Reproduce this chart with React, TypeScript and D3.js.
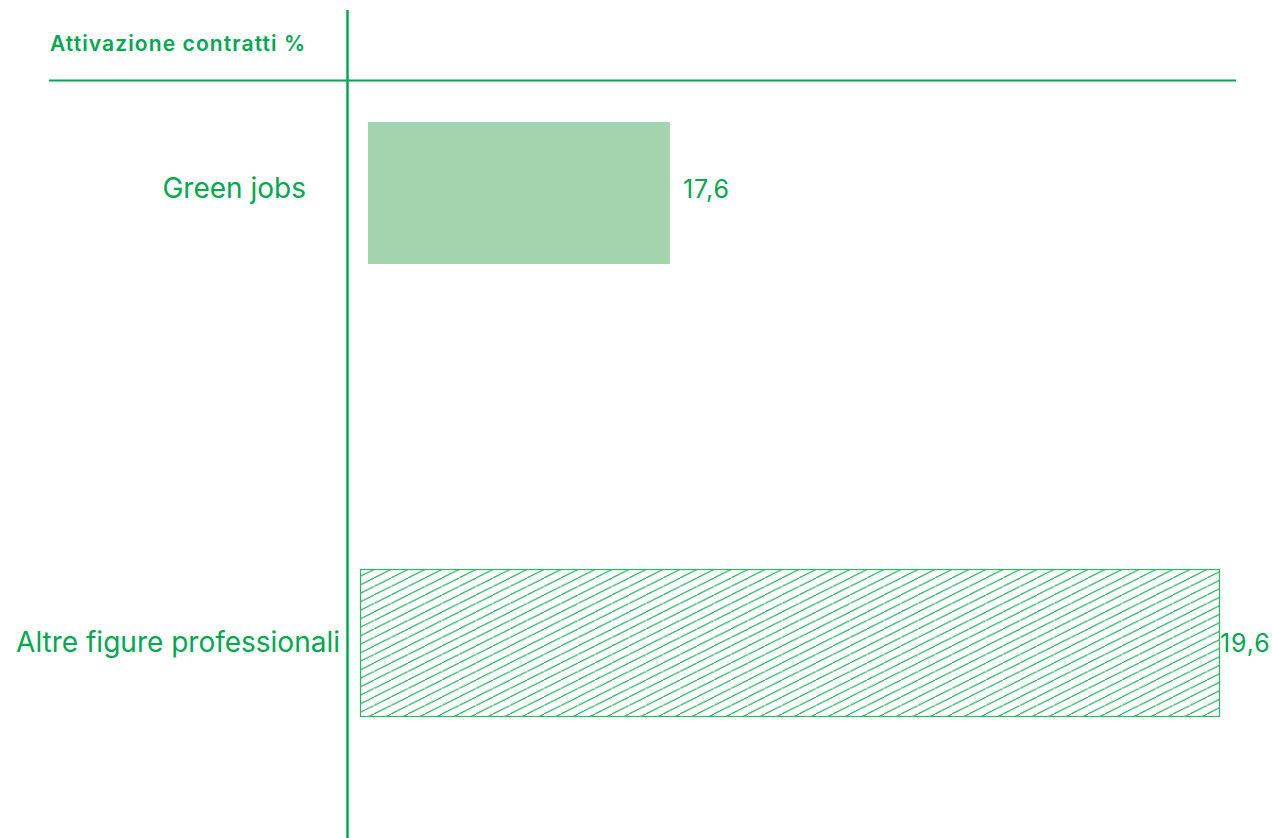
import React from "react";
import * as d3 from "d3";

const categories = ["Green jobs", "Altre figure professionali"];
const values = [17.6, 19.6];
const valueLabels = ["17,6", "19,6"];
const title = "Attivazione contratti %";

const W = 1272;
const H = 838;
const GREEN = "#00a84f";
const FILL = "#a3d4ae";
const FONT = "Inter, 'Noto Sans', sans-serif";

export default function App() {
  const x = d3.scaleLinear().domain([16.516, 19.6]).range([0, 859]);
  const y = d3.scalePoint<string>().domain(categories).range([193, 643]);
  const barStart = [368, 360.5];
  const barHeight = [142, 147];
  const labelRight = [306, 340];

  return (
    <svg
      width={W}
      height={H}
      style={{ position: "absolute", left: 0, top: 0, background: "#fff" }}
    >
      <defs>
        <pattern id="hatch" patternUnits="userSpaceOnUse" width={17} height={8.5}>
          <line x1={-17} y1={17} x2={34} y2={-8.5} stroke="#1dae5a" strokeWidth={1.15} />
        </pattern>
      </defs>
      <text
        x={50}
        y={51}
        fill={GREEN}
        fontFamily={FONT}
        fontSize={21}
        fontWeight={600}
        letterSpacing={1.1}
      >
        {title}
      </text>
      <line x1={49} x2={1236} y1={80.5} y2={80.5} stroke={GREEN} strokeWidth={2} />
      <line x1={347.5} x2={347.5} y1={10} y2={838} stroke={GREEN} strokeWidth={2.5} />
      {categories.map((c, i) => {
        const cy = y(c)!;
        const w = x(values[i]);
        const top = cy - barHeight[i] / 2;
        return (
          <g key={c}>
            {i === 0 ? (
              <rect x={barStart[i]} y={top} width={w} height={barHeight[i]} fill={FILL} />
            ) : (
              <rect
                x={barStart[i]}
                y={top}
                width={w}
                height={barHeight[i]}
                fill="url(#hatch)"
                stroke="#2db566"
                strokeWidth={1.2}
              />
            )}
            <text
              x={labelRight[i]}
              y={cy + (i === 0 ? 5 : 9)}
              textAnchor="end"
              fill={GREEN}
              fontFamily={FONT}
              fontSize={28}
            >
              {c}
            </text>
            <text
              x={barStart[i] + w + (i === 0 ? 13 : 0.5)}
              y={cy + (i === 0 ? 5 : 9)}
              fill={GREEN}
              fontFamily={FONT}
              fontSize={25}
              letterSpacing={0.9}
            >
              {valueLabels[i]}
            </text>
          </g>
        );
      })}
    </svg>
  );
}
